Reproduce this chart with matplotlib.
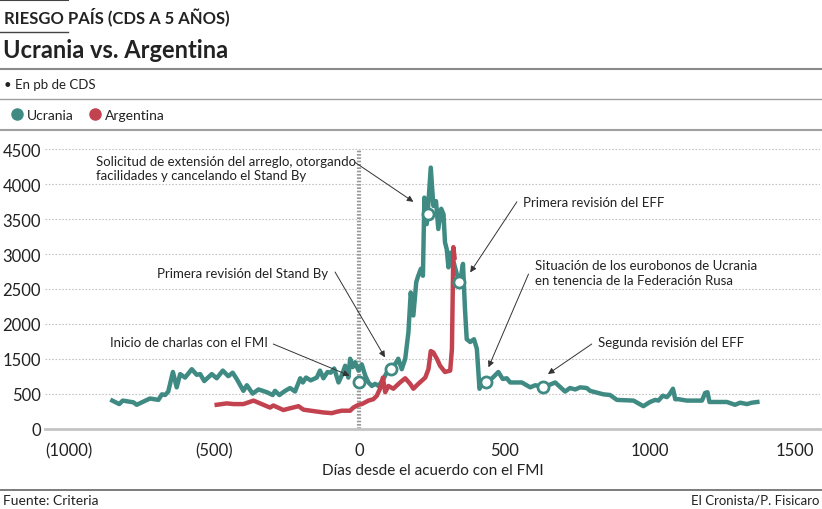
import matplotlib
matplotlib.use('Agg')
import matplotlib.pyplot as plt
from matplotlib.lines import Line2D

plt.rcParams['font.family'] = ['Lato', 'DejaVu Sans']

# Ucrania: dias desde el acuerdo con el FMI / pb de CDS
ucr_dias = [-852, -828, -816, -779, -768, -722, -693, -681, -670, -659,
            -643, -630, -618, -601, -578, -561, -549, -535, -509, -492,
            -471, -452, -437, -423, -400, -388, -368, -348, -319, -299,
            -291, -276, -256, -239, -222, -204, -195, -184, -168, -147,
            -136, -124, -110, -99, -87, -72, -61, -49, -38, -32,
            -23, -15, -3, 8, 20, 31, 43, 54, 66, 83,
            100, 112, 123, 134, 146, 158, 169, 177, 186, 196,
            203, 212, 219, 224, 232, 238, 246, 255, 264, 272,
            282, 290, 295, 301, 307, 313, 322, 336, 347, 357,
            364, 370, 382, 395, 405, 414, 422, 439, 460, 479,
            494, 508, 520, 560, 589, 606, 632, 652, 675, 709,
            726, 744, 761, 784, 795, 841, 864, 888, 945, 979,
            1002, 1020, 1031, 1046, 1060, 1069, 1081, 1089, 1100, 1129,
            1181, 1192, 1200, 1207, 1267, 1295, 1313, 1336, 1353, 1372]
ucr_pb = [400, 350, 400, 375, 340, 430, 410, 490, 480, 530,
          810, 590, 780, 730, 850, 770, 780, 680, 780, 720,
          830, 750, 800, 710, 540, 620, 500, 560, 520, 480,
          540, 480, 540, 580, 530, 720, 660, 730, 690, 730,
          830, 720, 810, 800, 860, 660, 760, 900, 730, 1000,
          880, 950, 830, 920, 760, 660, 610, 640, 610, 710,
          850, 900, 920, 1000, 850, 1000, 1380, 1950, 1620, 2100,
          2190, 2290, 2190, 3310, 2930, 3240, 3740, 3190, 3260, 2860,
          3150, 3070, 2670, 2570, 2310, 2520, 2430, 2210, 2100, 2360,
          1710, 1280, 1240, 1280, 1140, 570, 660, 660, 730, 810,
          710, 720, 660, 660, 590, 620, 600, 620, 660, 530,
          580, 560, 590, 580, 540, 490, 480, 410, 400, 320,
          380, 410, 400, 470, 450, 490, 570, 420, 420, 400,
          400, 510, 520, 380, 380, 340, 370, 350, 370, 380]

# Argentina
arg_dias = [-492, -457, -434, -400, -365, -337, -308, -297, -262, -239,
            -210, -193, -159, -124, -95, -78, -61, -32, -21, -3,
            8, 20, 31, 48, 60, 71, 81, 89, 100, 117,
            140, 158, 175, 186, 203, 227, 238, 246, 255, 267,
            278, 295, 313, 319, 324, 328]
arg_pb = [340, 360, 350, 350, 400, 350, 300, 330, 265, 290,
          320, 270, 250, 230, 220, 240, 255, 255, 300, 340,
          350, 375, 400, 420, 470, 570, 730, 520, 610, 570,
          660, 720, 640, 570, 640, 730, 850, 1110, 1090, 1000,
          900, 810, 830, 1140, 2600, 2450]

# hitos marcados con circulo sobre la serie de Ucrania
hitos_dias = [0, 108, 238, 345, 437, 632]
hitos_pb = [660, 850, 3070, 2100, 660, 600]
hitos_txt = ['Inicio de charlas con el FMI',
             'Primera revisión del Stand By',
             'Solicitud de extensión del arreglo, otorgando\nfacilidades y cancelando el Stand By',
             'Primera revisión del EFF',
             'Situación de los eurobonos de Ucrania\nen tenencia de la Federación Rusa',
             'Segunda revisión del EFF']
# punta de flecha / origen de flecha / texto
flecha_xy = [(-34, 757), (88, 1020), (186, 3250), (382, 2238), (445, 877), (650, 781)]
flecha_desde = [(-297, 1211), (-84, 2243), (-15, 3815), (543, 3250), (583, 2214), (801, 1211)]
texto_xy = [(-315, 1240), (-108, 2228), (-908, 3733), (565, 3250), (606, 2233), (824, 1235)]
texto_ha = ['right', 'right', 'left', 'left', 'left', 'left']

yticks = [0, 500, 1000, 1500, 2000, 2500, 3000, 3500, 4000]
ylabels = ['0', '500', '1500', '2000', '2500', '3000', '3500', '4000', '4500']
xticks = [-1000, -500, 0, 500, 1000, 1500]
xlabels = ['(1000)', '(500)', '0', '500', '1000', '1500']

teal = '#3f8b84'
rojo = '#c2434f'
txt = '#222222'

W, H = 822, 510
fig = plt.figure(figsize=(W / 100, H / 100), dpi=100)
ax = fig.add_axes([45 / W, 1 - 429.5 / H, 775 / W, 289.5 / H])

ax.plot(ucr_dias, ucr_pb, color=teal, lw=3.2, solid_joinstyle='round', zorder=3)
ax.plot(arg_dias, arg_pb, color=rojo, lw=3.2, solid_joinstyle='round', zorder=4)
ax.plot(hitos_dias, hitos_pb, 'o', ms=8, mfc='white', mec=teal, mew=2, zorder=5)

for i in range(len(hitos_txt)):
    ax.annotate('', xy=flecha_xy[i], xytext=flecha_desde[i],
                arrowprops=dict(arrowstyle='-|>', color='#333333', lw=0.7,
                                mutation_scale=9, shrinkA=0, shrinkB=0), zorder=6)
    ax.text(texto_xy[i][0], texto_xy[i][1], hitos_txt[i], ha=texto_ha[i], va='center',
            fontsize=9.5, color=txt, linespacing=1.25)

ax.axvline(0, ymin=0, ymax=4010 / 4150, color='#9a9a9a', lw=3, ls=(0, (0.4, 0.4)), zorder=2)

ax.set_xlim(-1084, 1588)
ax.set_ylim(0, 4150)
ax.set_yticks(yticks)
ax.set_yticklabels(ylabels)
ax.set_xticks(xticks)
ax.set_xticklabels(xlabels)
ax.tick_params(length=0, labelsize=12, colors=txt)
ax.tick_params(axis='y', pad=3)
ax.tick_params(axis='x', pad=10)
ax.set_xlabel('Días desde el acuerdo con el FMI', fontsize=11, color=txt, labelpad=3)
ax.grid(axis='y', color='#c4c4c4', ls=(0, (1.5, 1.5)), lw=0.8)
ax.set_axisbelow(True)
for s in ['top', 'right', 'left']:
    ax.spines[s].set_visible(False)
ax.spines['bottom'].set_color('#c4c4c4')
ax.spines['bottom'].set_linewidth(2)

# cabecera
def linea(y, x0, x1, color, lw):
    fig.add_artist(Line2D([x0 / W, x1 / W], [1 - y / H, 1 - y / H], color=color, lw=lw))

linea(1, 0, 68, '#444444', 1.5)
linea(33, 0, 68, '#444444', 1)
linea(70, 0, W, '#8a8a8a', 1.5)
linea(100, 0, W, '#a0a0a0', 1)
linea(131, 0, W, '#a0a0a0', 1.5)
linea(491, 0, W, '#666666', 1.2)

fig.text(4 / W, 1 - 17 / H, 'RIESGO PAÍS (CDS A 5 AÑOS)', fontsize=12, fontweight='bold',
         color=txt, va='center')
fig.text(3 / W, 1 - 50 / H, 'Ucrania vs. Argentina', fontsize=17, fontweight='bold',
         color=txt, va='center')
fig.text(4 / W, 1 - 85 / H, '• En pb de CDS', fontsize=9.5, color=txt, va='center')

leg = fig.legend(handles=[Line2D([], [], ls='', marker='o', ms=8, color=teal, label='Ucrania'),
                          Line2D([], [], ls='', marker='o', ms=8, color=rojo, label='Argentina')],
                 loc='center left', bbox_to_anchor=(-2 / W, 1 - 116 / H), ncol=2, frameon=False,
                 fontsize=10, handletextpad=0.2, columnspacing=1.0, handlelength=1.0)
for t in leg.get_texts():
    t.set_color(txt)

fig.text(3 / W, 1 - 501 / H, 'Fuente: Criteria', fontsize=10, color=txt, va='center')
fig.text(819 / W, 1 - 501 / H, 'El Cronista/P. Fisicaro', fontsize=9.5, color=txt,
         va='center', ha='right')

fig.savefig('out.png', dpi=100)
